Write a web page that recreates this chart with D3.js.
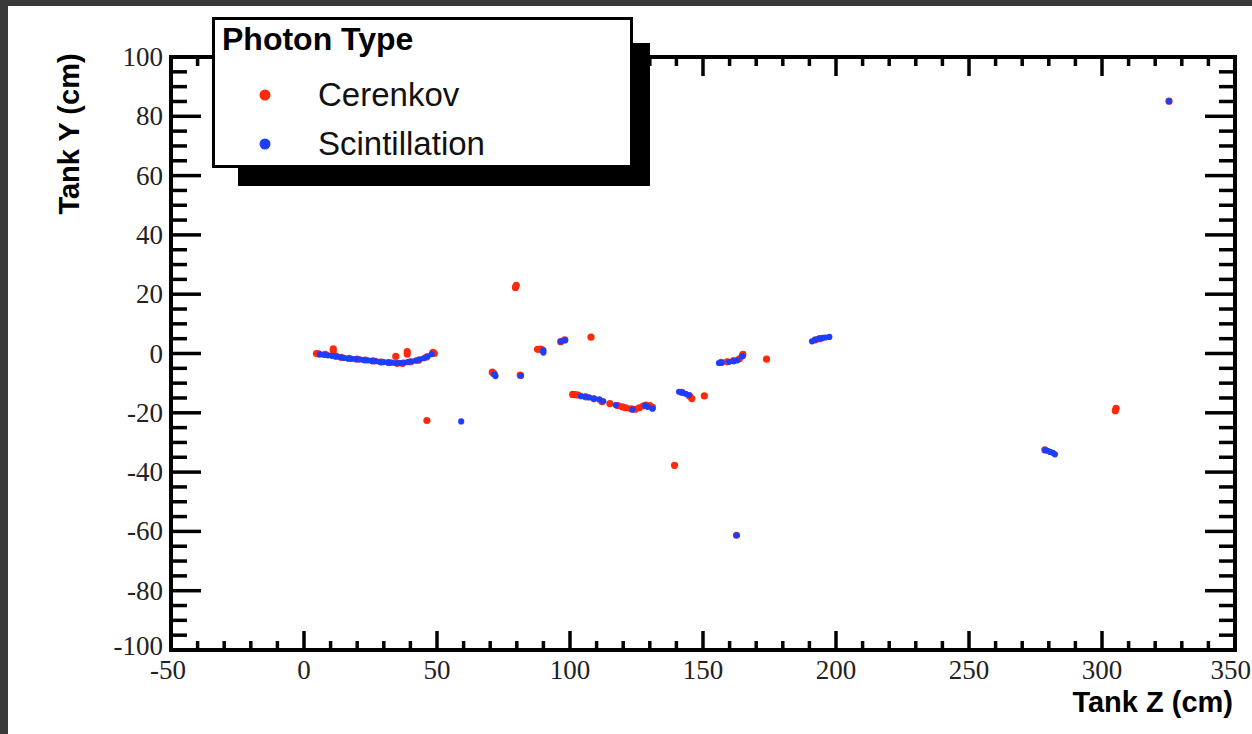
<!DOCTYPE html>
<html><head><meta charset="utf-8">
<script src="https://cdn.jsdelivr.net/npm/d3@7"></script>
<style>
html,body{margin:0;padding:0;background:#3a3a3a;}
svg{display:block;}
</style></head>
<body>
<svg id="c" width="1252" height="734"></svg>
<script>
// ---- data (Tank Z, Tank Y in cm) ----
const cerenkovZ = [4.7,5.5,8,11,11,12,14,17,20,23,26,29,32,34.5,35,37,38.8,38.8,40,43,46,48.5,49,
  46.2,79.5,79.8,70.8,71.5,81.3,87.8,88.8,89.5,96.5,98,107.9,
  101,102,103,106,109,112,115,118,119.7,121,123,124.5,126,127.5,128.5,130,131,
  139.3,142,145,145.8,150.5,156.8,159,161.5,163.7,164.8,165,162.6,173.9,192.3,194,
  305,305.3,278.5,325.2];
const cerenkovY = [0.0,-0.1,-0.3,0.9,1.6,-0.9,-1.3,-1.6,-1.9,-2.2,-2.5,-2.9,-3.1,-1.0,-3.3,-3.3,0.6,-0.2,-2.8,-2.3,-1.2,0.4,0.0,
  -22.6,22.3,23.0,-6.3,-6.9,-7.3,1.4,1.5,1.2,4.0,4.6,5.5,
  -13.8,-13.9,-14.0,-14.6,-15.3,-16.2,-16.9,-17.6,-18.0,-18.3,-18.7,-18.8,-18.3,-17.7,-17.4,-17.6,-18.2,
  -37.7,-13.1,-14.4,-15.2,-14.3,-3.0,-2.8,-2.4,-1.8,-0.8,-0.3,-61.3,-1.9,4.6,5.0,
  -19.3,-18.5,-32.5,85.1];
const scintZ = [6,7.5,9,10.5,12,13.5,15,16.5,18,19.5,21,22.5,24,25.5,27,28.5,30,31.5,33,34.5,36,37.5,39,40.5,42,43.5,45,46.5,48,
  59.1,72,71.5,81.6,90,90,96.6,98.2,
  104.1,105.5,107.2,109,111,112.5,117.2,123.5,128.3,129.1,131,
  141,142.2,143.5,144.8,156,157,159.8,161.5,162.9,164.8,162.6,
  191,192,193.5,195,196,197.5,278.6,279.5,280.5,281.5,282.3,325.2];
const scintY = [-0.3,-0.4,-0.6,-0.8,-1.0,-1.2,-1.5,-1.7,-1.8,-1.9,-2.0,-2.2,-2.3,-2.5,-2.6,-2.8,-2.9,-3.0,-3.1,-3.2,-3.2,-3.1,-2.9,-2.7,-2.4,-2.0,-1.6,-1.0,-0.2,
  -22.9,-7.6,-7.0,-7.5,1.1,0.3,4.1,4.5,
  -14.4,-14.5,-14.8,-15.2,-15.5,-16.1,-17.4,-18.9,-17.6,-18.0,-18.6,
  -12.9,-13.1,-13.6,-14.0,-3.2,-3.1,-2.8,-2.6,-2.3,-0.9,-61.3,
  4.1,4.6,5.0,5.3,5.4,5.6,-32.6,-32.8,-33.2,-33.5,-34.0,85.1];
const xDomain = [-50, 350];
const yDomain = [-100, 100];
const xMajor = [-50,0,50,100,150,200,250,300,350];
const yMajor = [-100,-80,-60,-40,-20,0,20,40,60,80,100];
const xMinorStep = 10, yMinorStep = 5;
const legendLabels = ["Cerenkov","Scintillation"];
const legendTitle = "Photon Type";
const xTitle = "Tank Z (cm)", yTitle = "Tank Y (cm)";
const colors = {Cerenkov:"#ff2a0a", Scintillation:"#1f3dff"};

// ---- layout ----
const svg = d3.select("#c");
svg.append("rect").attr("x",8).attr("y",6).attr("width",1244).attr("height",728).attr("fill","#fff");
const L=171, R=1235, T=57, B=650;
const x = d3.scaleLinear().domain(xDomain).range([L,R]);
const y = d3.scaleLinear().domain(yDomain).range([B,T]);

const g = svg.append("g");
const xMin = d3.range(xDomain[0], xDomain[1]+0.001, xMinorStep);
const yMin = d3.range(yDomain[0], yDomain[1]+0.001, yMinorStep);
const tw = 3.5;
function isMajor(v, arr){ return arr.some(a=>Math.abs(a-v)<1e-6); }
xMin.forEach(v=>{
  const len = isMajor(v,xMajor)?19:9;
  g.append("line").attr("x1",x(v)).attr("x2",x(v)).attr("y1",B).attr("y2",B-len).attr("stroke","#000").attr("stroke-width",tw);
  g.append("line").attr("x1",x(v)).attr("x2",x(v)).attr("y1",T).attr("y2",T+len).attr("stroke","#000").attr("stroke-width",tw);
});
yMin.forEach(v=>{
  const len = isMajor(v,yMajor)?30:16;
  g.append("line").attr("y1",y(v)).attr("y2",y(v)).attr("x1",L).attr("x2",L+len).attr("stroke","#000").attr("stroke-width",tw);
  g.append("line").attr("y1",y(v)).attr("y2",y(v)).attr("x1",R).attr("x2",R-len).attr("stroke","#000").attr("stroke-width",tw);
});
g.append("rect").attr("x",L).attr("y",T).attr("width",R-L).attr("height",B-T)
  .attr("fill","none").attr("stroke","#000").attr("stroke-width",4);

// tick labels
const tf = "'Liberation Serif','Times New Roman',serif";
xMajor.forEach((v,i)=>{
  const last = i===xMajor.length-1;
  g.append("text").attr("x",last?1251:x(v)+(v<0?-3:0)).attr("y",679).attr("text-anchor",last?"end":"middle")
   .attr("font-family",tf).attr("font-size",27).attr("fill","#222").text(v);
});
yMajor.forEach(v=>{
  g.append("text").attr("x",163).attr("y",y(v)+(v===-100?5:9)).attr("text-anchor","end")
   .attr("font-family",tf).attr("font-size",27).attr("fill","#222").text(v);
});
const sf = "'Liberation Sans',Arial,Helvetica,sans-serif";
g.append("text").attr("x",1233).attr("y",712).attr("text-anchor","end")
  .attr("font-family",sf).attr("font-weight","bold").attr("font-size",29).text(xTitle);
g.append("text").attr("transform","translate(79,134) rotate(-90)").attr("text-anchor","middle")
  .attr("font-family",sf).attr("font-weight","bold").attr("font-size",29).text(yTitle);

// points
svg.append("clipPath").attr("id","pc").append("rect").attr("x",L).attr("y",T).attr("width",R-L).attr("height",B-T);
const pts = svg.append("g").attr("clip-path","url(#pc)");
const cer = d3.zip(cerenkovZ, cerenkovY), sci = d3.zip(scintZ, scintY);
pts.selectAll("circle.c").data(cer).join("circle").attr("class","c")
  .attr("cx",d=>x(d[0])).attr("cy",d=>y(d[1])).attr("r",3.6).attr("fill",colors.Cerenkov);
pts.selectAll("circle.s").data(sci).join("circle").attr("class","s")
  .attr("cx",d=>x(d[0])).attr("cy",d=>y(d[1])).attr("r",3.1).attr("fill",colors.Scintillation);

// legend
const lg = svg.append("g");
lg.append("rect").attr("x",238).attr("y",43).attr("width",412).attr("height",143).attr("fill","#000");
lg.append("rect").attr("x",213.5).attr("y",18.5).attr("width",418).attr("height",148).attr("fill","#fff").attr("stroke","#000").attr("stroke-width",3);
lg.append("text").attr("x",222).attr("y",50).attr("font-family",sf).attr("font-weight","bold").attr("font-size",32).text(legendTitle);
legendLabels.forEach((lab,i)=>{
  const cy = 95 + i*49;
  lg.append("circle").attr("cx",265).attr("cy",cy).attr("r",5.5).attr("fill",colors[lab]);
  lg.append("text").attr("x",318).attr("y",cy+11).attr("font-family",sf).attr("font-size",33).attr("fill","#111").text(lab);
});
</script>
</body></html>
